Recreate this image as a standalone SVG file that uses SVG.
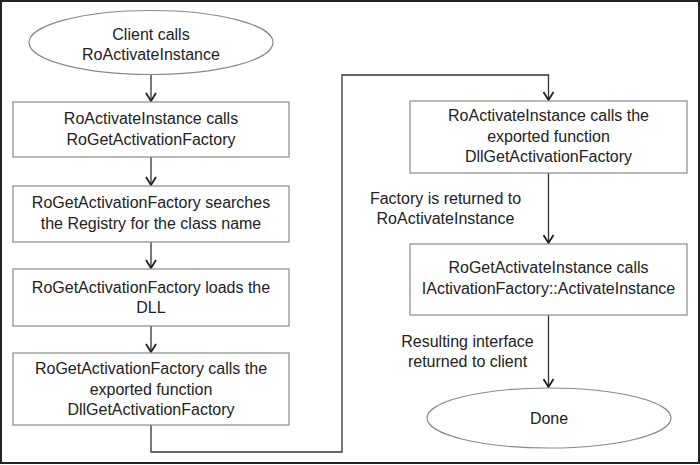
<svg xmlns="http://www.w3.org/2000/svg" width="700" height="465" viewBox="0 0 700 465">
<defs>
<style>
.box{fill:#fff;stroke:#8a8a8a;stroke-width:1.2}
.t{font-family:"Liberation Sans",Arial,sans-serif;font-size:16px;fill:#222;text-anchor:middle}
.c{fill:none;stroke:#333;stroke-width:1.3}
</style>
<marker id="ah" markerWidth="12" markerHeight="12" refX="9" refY="6" orient="auto" markerUnits="userSpaceOnUse">
<path d="M1,1 L9,6 L1,11" fill="none" stroke="#222" stroke-width="1.8"/>
</marker>
</defs>
<rect x="1" y="1" width="698" height="462" fill="#fff" stroke="#222" stroke-width="2"/>
<g id="connectors">
<line class="c" x1="151" y1="74" x2="151" y2="101" marker-end="url(#ah)"/>
<line class="c" x1="151" y1="157" x2="151" y2="185" marker-end="url(#ah)"/>
<line class="c" x1="151" y1="242" x2="151" y2="268" marker-end="url(#ah)"/>
<line class="c" x1="151" y1="326" x2="151" y2="352" marker-end="url(#ah)"/>
<polyline class="c" points="151,425 151,452 342,452 342,75 548.5,75 548.5,100" marker-end="url(#ah)"/>
<line class="c" x1="548.5" y1="173" x2="548.5" y2="243" marker-end="url(#ah)"/>
<line class="c" x1="548.5" y1="315" x2="548.5" y2="387" marker-end="url(#ah)"/>
</g>
<g id="start">
<ellipse class="box" cx="151" cy="42.5" rx="122" ry="32"/>
<text class="t" x="151" y="40">Client calls</text>
<text class="t" x="151" y="60">RoActivateInstance</text>
</g>
<g id="box1">
<rect class="box" x="13" y="102" width="276" height="55"/>
<text class="t" x="151" y="124">RoActivateInstance calls</text>
<text class="t" x="151" y="145">RoGetActivationFactory</text>
</g>
<g id="box2">
<rect class="box" x="13" y="186" width="276" height="56"/>
<text class="t" x="151" y="208">RoGetActivationFactory searches</text>
<text class="t" x="151" y="229">the Registry for the class name</text>
</g>
<g id="box3">
<rect class="box" x="13" y="269" width="276" height="57"/>
<text class="t" x="151" y="293">RoGetActivationFactory loads the</text>
<text class="t" x="151" y="313">DLL</text>
</g>
<g id="box4">
<rect class="box" x="13" y="353" width="276" height="72"/>
<text class="t" x="151" y="374">RoGetActivationFactory calls the</text>
<text class="t" x="151" y="395">exported function</text>
<text class="t" x="151" y="415">DllGetActivationFactory</text>
</g>
<g id="box5">
<rect class="box" x="410" y="101" width="277" height="72"/>
<text class="t" x="548.5" y="121">RoActivateInstance calls the</text>
<text class="t" x="548.5" y="142">exported function</text>
<text class="t" x="548.5" y="162">DllGetActivationFactory</text>
</g>
<g id="label1">
<text class="t" x="445.5" y="204">Factory is returned to</text>
<text class="t" x="445.5" y="224">RoActivateInstance</text>
</g>
<g id="box6">
<rect class="box" x="410" y="244" width="277" height="71"/>
<text class="t" x="548.5" y="273">RoGetActivateInstance calls</text>
<text class="t" x="548.5" y="294">IActivationFactory::ActivateInstance</text>
</g>
<g id="label2">
<text class="t" x="467.5" y="347">Resulting interface</text>
<text class="t" x="467.5" y="367">returned to client</text>
</g>
<g id="done">
<ellipse class="box" cx="549" cy="418" rx="122" ry="30"/>
<text class="t" x="549" y="424">Done</text>
</g>
</svg>
